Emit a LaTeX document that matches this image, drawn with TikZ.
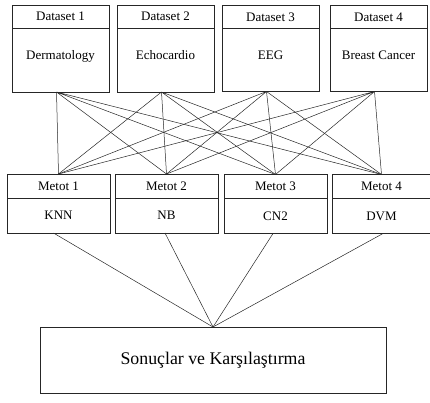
\documentclass[tikz,border=0pt]{standalone}
\usepackage{fontspec}
\setmainfont{Liberation Serif}
\usetikzlibrary{positioning}

\begin{document}
\begin{tikzpicture}[
  x=1pt, y=-1pt,
  head/.style={draw=black!85, line width=0.7pt, inner sep=0pt, outer sep=0pt,
  minimum width=97pt, minimum height=23pt, font=\fontsize{13}{15}\selectfont},
  body/.style={head, minimum height=64pt, text depth=10pt},
  mhead/.style={head, minimum width=103pt, minimum height=24pt},
  mbody/.style={mhead, minimum height=35pt},
  result/.style={head, minimum width=346pt, minimum height=66pt,
  font=\fontsize{17.8}{20}\selectfont},
  link/.style={line width=0.5pt, black!85}
]
  \useasboundingbox (0,0) rectangle (430,403);
  % datasets
  \node[head] (dh1) at (60.5,16.5) {Dataset 1};
  \node[body, below=0pt of dh1] (d1) {Dermatology};
  \node[head] (dh2) at (165.5,16.5) {Dataset 2};
  \node[body, below=0pt of dh2] (d2) {Echocardio};
  \node[head] (dh3) at (270.5,17) {Dataset 3};
  \node[body, below=0pt of dh3, minimum height=63pt] (d3) {EEG};
  \node[head] (dh4) at (378.5,17) {Dataset 4};
  \node[body, below=0pt of dh4, minimum height=63pt] (d4) {Breast Cancer};
  % methods
  \node[mhead] (mh1) at (58.5,186) {Metot 1};
  \node[mbody, below=0pt of mh1] (m1) {KNN};
  \node[mhead] (mh2) at (166.5,186) {Metot 2};
  \node[mbody, below=0pt of mh2] (m2) {NB};
  \node[mhead] (mh3) at (275.5,186.5) {Metot 3};
  \node[mbody, below=0pt of mh3] (m3) {CN2};
  \node[mhead, minimum width=99pt] (mh4) at (381.5,186.5) {Metot 4};
  \node[mbody, below=0pt of mh4, minimum width=99pt] (m4) {DVM};
  % results
  \node[result] (res) at (213,360) {Sonuçlar ve Karşılaştırma};

  \draw[link] ([xshift=-4pt]d1.south) -- (mh1.north) ([xshift=-4pt]d1.south) -- (mh2.north)
    ([xshift=-4pt]d1.south) -- (mh3.north) ([xshift=-4pt]d1.south) -- (mh4.north);
  \draw[link] ([xshift=-4pt]d2.south) -- (mh1.north) ([xshift=-4pt]d2.south) -- (mh2.north)
    ([xshift=-4pt]d2.south) -- (mh3.north) ([xshift=-4pt]d2.south) -- (mh4.north);
  \draw[link] ([xshift=-4pt]d3.south) -- (mh1.north) ([xshift=-4pt]d3.south) -- (mh2.north)
    ([xshift=-4pt]d3.south) -- (mh3.north) ([xshift=-4pt]d3.south) -- (mh4.north);
  \draw[link] ([xshift=-4pt]d4.south) -- (mh1.north) ([xshift=-4pt]d4.south) -- (mh2.north)
    ([xshift=-4pt]d4.south) -- (mh3.north) ([xshift=-4pt]d4.south) -- (mh4.north);

  \draw[link] ([xshift=-5pt]m1.south) -- (res.north);
  \draw[link] ([xshift=-1.5pt]m2.south) -- (res.north);
  \draw[link] ([xshift=-2.5pt]m3.south) -- (res.north);
  \draw[link] ([xshift=1.5pt]m4.south) -- (res.north);
\end{tikzpicture}
\end{document}
